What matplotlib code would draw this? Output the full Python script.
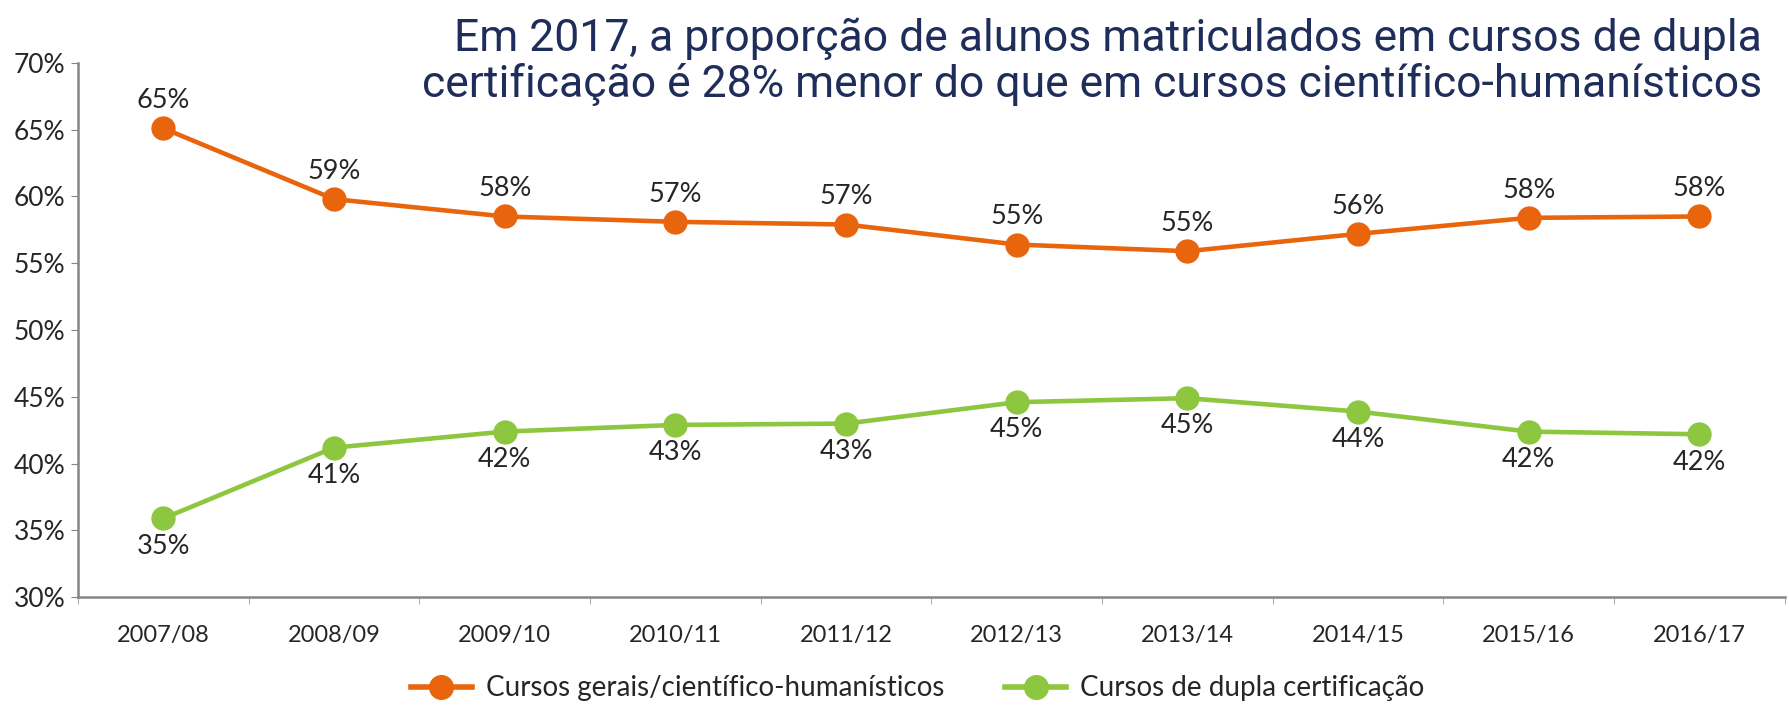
import matplotlib
matplotlib.use("Agg")
import matplotlib.pyplot as plt
from matplotlib.lines import Line2D

# dados
anos = ["2007/08", "2008/09", "2009/10", "2010/11", "2011/12",
        "2012/13", "2013/14", "2014/15", "2015/16", "2016/17"]
gerais = [65.1, 59.8, 58.5, 58.1, 57.9, 56.4, 55.9, 57.2, 58.4, 58.5]
gerais_lbl = ["65%", "59%", "58%", "57%", "57%", "55%", "55%", "56%", "58%", "58%"]
dupla = [35.9, 41.2, 42.4, 42.9, 43.0, 44.6, 44.9, 43.9, 42.4, 42.2]
dupla_lbl = ["35%", "41%", "42%", "43%", "43%", "45%", "45%", "44%", "42%", "42%"]
yticks = [30, 35, 40, 45, 50, 55, 60, 65, 70]

LARANJA = "#E8650E"
VERDE = "#8DC63F"
TXT = "#262626"
plt.rcParams["font.family"] = ["Lato", "DejaVu Sans"]

fig = plt.figure(figsize=(17.89, 7.06), dpi=100)
ax = fig.add_axes([0.0436, 0.154, 0.954, 0.757])
x = list(range(len(anos)))

ax.plot(x, gerais, color=LARANJA, lw=3.3, marker="o", ms=16.5, zorder=3)
ax.plot(x, dupla, color=VERDE, lw=3.3, marker="o", ms=16.5, zorder=3)
for i in x:
    ax.annotate(gerais_lbl[i], (i, gerais[i]), xytext=(0, 20), textcoords="offset points",
                ha="center", va="center", fontsize=19.5, color=TXT)
    ax.annotate(dupla_lbl[i], (i, dupla[i]), xytext=(0, -20), textcoords="offset points",
                ha="center", va="center", fontsize=19.5, color=TXT)

ax.set_xlim(-0.5, len(anos) - 0.5)
ax.set_ylim(30, 70)
ax.set_yticks(yticks)
ax.set_yticklabels([f"{v}%" for v in yticks], fontsize=19, color=TXT)
ax.set_xticks(x)
ax.set_xticklabels(anos, fontsize=17, color=TXT)
ax.set_xticks([i - 0.5 for i in range(len(anos) + 1)], minor=True)
ax.tick_params(axis="x", which="major", length=0, pad=20)
ax.tick_params(axis="x", which="minor", length=5, color="#A0A0A0")
ax.tick_params(axis="y", length=5, color="#868686", pad=4)
for s in ["top", "right"]:
    ax.spines[s].set_visible(False)
for s in ["left", "bottom"]:
    ax.spines[s].set_color("#868686")
    ax.spines[s].set_linewidth(1.8)

handles = [Line2D([], [], color=LARANJA, lw=4, marker="o", ms=17),
           Line2D([], [], color=VERDE, lw=4, marker="o", ms=17)]
fig.legend(handles, ["Cursos gerais/científico-humanísticos", "Cursos de dupla certificação"],
           loc="center", bbox_to_anchor=(0.513, 0.025), ncol=2, frameon=False,
           fontsize=20, handlelength=2.2, handletextpad=0.5, columnspacing=2.2,
           labelcolor=TXT)

fig.text(0.985, 0.975,
         "Em 2017, a proporção de alunos matriculados em cursos de dupla\n"
         "certificação é 28% menor do que em cursos científico-humanísticos",
         ha="right", va="top", fontsize=32, color="#1F2D5A", linespacing=1.08,
         family=["Roboto", "DejaVu Sans"])

fig.savefig("out.png", dpi=100)
